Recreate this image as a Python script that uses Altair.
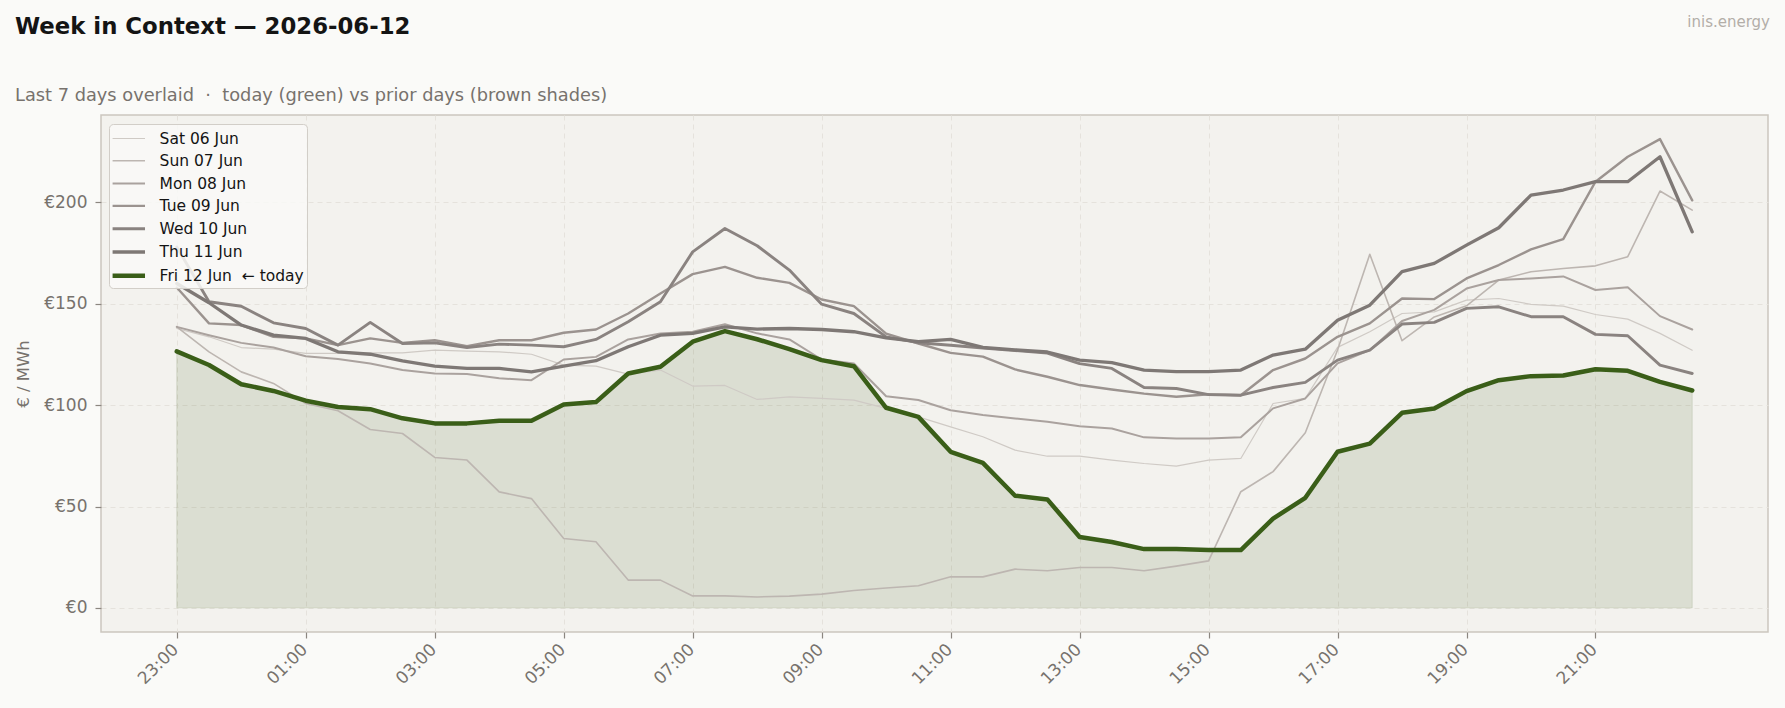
import altair as alt
import pandas as pd

# Half-hour delivery slots, 23:00 of the previous evening through 22:30
slots = [
    "23:00", "23:30", "00:00", "00:30", "01:00", "01:30", "02:00", "02:30",
    "03:00", "03:30", "04:00", "04:30", "05:00", "05:30", "06:00", "06:30",
    "07:00", "07:30", "08:00", "08:30", "09:00", "09:30", "10:00", "10:30",
    "11:00", "11:30", "12:00", "12:30", "13:00", "13:30", "14:00", "14:30",
    "15:00", "15:30", "16:00", "16:30", "17:00", "17:30", "18:00", "18:30",
    "19:00", "19:30", "20:00", "20:30", "21:00", "21:30", "22:00", "22:30",
]
tick_labels = ["23:00", "01:00", "03:00", "05:00", "07:00", "09:00",
               "11:00", "13:00", "15:00", "17:00", "19:00", "21:00"]

NB = "\u00a0"  # keeps double spaces from collapsing in SVG text
days = ["Sat 06 Jun", "Sun 07 Jun", "Mon 08 Jun", "Tue 09 Jun",
        "Wed 10 Jun", "Thu 11 Jun", f"Fri 12 Jun{NB}{NB}\u2190 today"]
today = days[-1]

# EUR/MWh per slot
sat = [137.8, 133.7, 128.4, 127.6, 125.5, 125.5, 125.8, 125.8, 127.1, 126.6,
       126.3, 125.1, 119.7, 119.2, 115.3, 117.3, 109.4, 109.7, 102.8, 104.1,
       103.3, 102.5, 98.4, 94.2, 89.3, 84.4, 77.8, 74.8, 74.8, 72.9,
       71.2, 69.9, 72.9, 73.7, 100.8, 103.3, 128.5, 136.2, 145.2, 146.0,
       151.8, 152.6, 149.7, 148.8, 144.7, 142.4, 135.4, 127.1]
sun = [138.6, 126.3, 116.4, 110.7, 100.8, 97.2, 88.0, 86.0, 74.2, 72.9,
       57.2, 53.9, 34.2, 32.6, 13.7, 13.7, 5.9, 5.9, 5.4, 5.8,
       6.8, 8.6, 9.8, 10.9, 15.3, 15.3, 19.1, 18.3, 19.9, 19.9,
       18.3, 20.6, 23.2, 57.3, 67.2, 86.4, 127.2, 174.4, 131.8, 143.5,
       149.0, 161.7, 165.8, 167.4, 168.7, 173.2, 205.6, 196.2]
mon = [138.6, 134.5, 130.7, 128.4, 124.1, 122.7, 120.5, 117.3, 115.6, 115.3,
       113.2, 112.3, 122.5, 123.8, 132.4, 135.3, 136.2, 139.9, 135.4, 132.4,
       122.5, 120.5, 104.4, 102.5, 97.5, 95.1, 93.4, 91.8, 89.6, 88.5,
       84.1, 83.6, 83.6, 84.1, 98.4, 103.3, 120.6, 127.1, 141.5, 147.0,
       157.5, 161.7, 162.5, 163.5, 156.8, 158.1, 143.9, 137.3]
tue = [158.0, 140.3, 139.5, 133.7, 132.9, 129.6, 132.9, 130.7, 132.0, 129.1,
       132.0, 132.0, 135.7, 137.3, 145.2, 155.1, 164.6, 168.2, 162.8, 160.3,
       152.1, 148.8, 135.3, 130.4, 125.8, 123.9, 117.6, 114.0, 109.9, 107.7,
       105.7, 104.1, 105.4, 104.9, 117.3, 123.0, 133.7, 140.3, 152.6, 152.3,
       162.5, 169.1, 176.8, 181.9, 210.2, 222.5, 231.2, 201.0]
wed = [178.0, 151.0, 148.8, 140.6, 137.8, 129.6, 140.8, 130.4, 130.7, 128.4,
       130.1, 129.6, 128.8, 132.4, 141.1, 151.0, 175.6, 187.1, 178.6, 166.6,
       149.8, 145.2, 133.7, 130.8, 129.5, 128.2, 126.9, 125.7, 120.5, 118.1,
       108.7, 108.2, 105.2, 104.9, 108.7, 111.2, 122.2, 127.1, 140.0, 140.8,
       147.7, 148.5, 143.6, 143.6, 134.9, 134.2, 119.7, 115.6]
thu = [160.0, 150.5, 139.5, 134.5, 132.9, 126.3, 125.1, 121.8, 119.2, 118.1,
       118.1, 116.4, 119.2, 121.9, 128.8, 134.5, 135.4, 138.6, 137.5, 137.8,
       137.3, 136.2, 133.2, 131.3, 132.4, 128.5, 127.3, 126.2, 122.2, 121.0,
       117.3, 116.5, 116.5, 117.3, 124.7, 127.6, 141.9, 149.3, 165.8, 169.9,
       178.9, 187.5, 203.6, 206.1, 210.2, 210.2, 222.5, 185.5]
fri = [126.5, 119.8, 110.3, 107.0, 102.2, 99.1, 98.0, 93.5, 91.0, 91.0,
       92.3, 92.3, 100.3, 101.5, 115.6, 118.9, 131.3, 136.5, 132.5, 127.6,
       122.2, 119.2, 98.7, 94.2, 77.0, 71.5, 55.3, 53.5, 35.0, 32.5,
       29.0, 29.0, 28.5, 28.5, 44.0, 54.3, 77.0, 81.0, 96.2, 98.3,
       106.9, 112.3, 114.3, 114.6, 117.7, 116.9, 111.5, 107.2]

series = [sat, sun, mon, tue, wed, thu, fri]
line_colors = ["#cfcac5", "#bdb6b1", "#aaa29e", "#9b938f", "#8a8380", "#7e7875", "#3a5e18"]
line_widths = [1.2, 1.6, 2.0, 2.4, 2.9, 3.3, 4.5]

rows = []
for day, values in zip(days, series):
    for i, (slot, price) in enumerate(zip(slots, values)):
        rows.append({"idx": i, "slot": slot, "day": day, "price": price})
df = pd.DataFrame(rows)

FONT = "DejaVu Sans"
W, H = 1667, 517
INK = "#141414"
MUTED = "#77726d"
GRID = "#e5e2dc"

slot_lookup = "[" + ",".join(f"'{s}'" for s in slots) + "]"
tick_idx = [slots.index(t) for t in tick_labels]

x_enc = alt.X(
    "idx:Q",
    scale=alt.Scale(domain=[-2.35, len(slots) - 1 + 2.35], nice=False, zero=False),
    axis=alt.Axis(
        values=tick_idx, labelExpr=f"{slot_lookup}[datum.value]", title=None,
        labelAngle=315, labelAlign="right", labelBaseline="top",
        labelFontSize=17, labelColor=MUTED, labelPadding=3, labelOffset=-7,
        tickSize=6, tickColor="#8b8680", tickWidth=1.2, grid=True,
        gridColor=GRID, gridDash=[5, 4], gridWidth=1, domain=False,
    ),
)
y_enc = alt.Y(
    "price:Q",
    scale=alt.Scale(domain=[-11.9, 243.1], nice=False, zero=False),
    axis=alt.Axis(
        values=[0, 50, 100, 150, 200], labelExpr="'\u20ac' + datum.value",
        title="\u20ac / MWh", titleFontSize=16.5, titleFontWeight="normal",
        titleColor=MUTED, titlePadding=12, labelFontSize=17,
        labelColor=MUTED, labelPadding=8, tickSize=6, tickColor="#8b8680",
        tickWidth=1.2, grid=True, gridColor=GRID, gridDash=[5, 4],
        gridWidth=1, domain=False,
    ),
)

color_enc = alt.Color(
    "day:N",
    scale=alt.Scale(domain=days, range=line_colors),
    legend=alt.Legend(
        title=None, orient="none", legendX=8, legendY=9,
        symbolType="M-1.45,0L1.45,0", symbolSize=500,
        labelFontSize=15.5, labelColor=INK, labelFont=FONT,
        fillColor="rgba(249,249,247,0.85)", strokeColor="#d2cec8",
        padding=2.5, cornerRadius=4, rowPadding=1.3, labelOffset=17.3,
        symbolOffset=3.8,
    ),
)
width_enc = alt.StrokeWidth(
    "day:N",
    scale=alt.Scale(type="ordinal", domain=days, range=line_widths),
    legend=alt.Legend(title=None),
)

base = alt.Chart(df)

fill = base.transform_filter(alt.datum.day == today).mark_area(
    color="#3a5e18", fillOpacity=0.13, stroke="#3a5e18", strokeOpacity=0.13,
    strokeWidth=1,
).encode(x=x_enc, y=y_enc, y2=alt.datum(0))

prior = base.transform_filter(alt.datum.day != today).mark_line(
    strokeJoin="round", strokeCap="round"
).encode(x=x_enc, y=y_enc, color=color_enc, strokeWidth=width_enc)

current = base.transform_filter(alt.datum.day == today).mark_line(
    strokeJoin="round", strokeCap="round"
).encode(x=x_enc, y=y_enc, color=color_enc, strokeWidth=width_enc)

# Header texts, placed relative to the plot's top-left corner
heading = alt.Chart(pd.DataFrame({"t": ["Week in Context \u2014 2026-06-12"]})).mark_text(
    align="left", baseline="alphabetic", fontSize=22.8, fontWeight="bold",
    color=INK, font=FONT,
).encode(x=alt.value(-86), y=alt.value(-81), text="t:N")

subheading = alt.Chart(pd.DataFrame(
    {"t": [f"Last 7 days overlaid{NB}{NB}\u00b7{NB}{NB}today (green) vs prior days (brown shades)"]}
)).mark_text(
    align="left", baseline="alphabetic", fontSize=17.8, color=MUTED, font=FONT,
).encode(x=alt.value(-86), y=alt.value(-14), text="t:N")

brand = alt.Chart(pd.DataFrame({"t": ["inis.energy"]})).mark_text(
    align="right", baseline="alphabetic", fontSize=15, color="#b3aea8", font=FONT
).encode(x=alt.value(W + 2), y=alt.value(-88), text="t:N")

chart = alt.layer(fill, prior, current, heading, subheading, brand).properties(
    width=W, height=H,
    padding={"left": 101, "top": 115, "right": 17, "bottom": 76},
    autosize=alt.AutoSizeParams(type="none"),
    background="#fafaf8",
    view=alt.ViewBackground(fill="#f3f2ee", stroke="#cbc6bf", strokeWidth=1.5),
).configure_view(
    fill="#f3f2ee", stroke="#cbc6bf", strokeWidth=1.5
).configure(font=FONT)

chart.save("out.html", embed_options={"renderer": "svg", "actions": False})
